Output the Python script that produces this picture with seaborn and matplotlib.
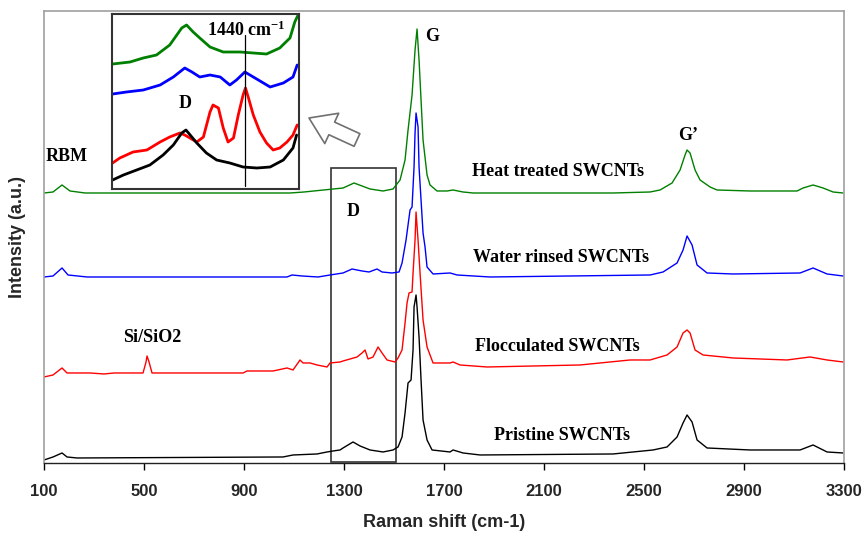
import matplotlib
matplotlib.use('Agg')

import matplotlib.pyplot as plt
import matplotlib.patches as mpatches
import seaborn as sns
import pandas as pd

# spectra (Raman shift in cm-1, intensity in arbitrary units, already offset)
heat_shift = [100, 136, 172, 204, 264, 1084, 1140, 1296, 1340, 1404, 1456, 1496, 1524, 1544, 1556,
              1572, 1584, 1592, 1600, 1608, 1616, 1632, 1644, 1672, 1712, 1736, 1776, 1816, 2376, 2524,
              2564, 2612, 2644, 2664, 2672, 2684, 2704, 2724, 2764, 2792, 2924, 3112, 3136, 3176, 3216,
              3256, 3296]
heat_int = [270, 271, 278, 272, 270, 270, 271, 275, 280, 274, 272, 274, 283, 303, 333,
            368, 413, 434, 403, 363, 323, 288, 278, 272, 272, 273, 271, 270, 270, 271,
            273, 280, 293, 308, 313, 310, 293, 283, 276, 273, 272, 272, 275, 278, 275,
            271, 270]

rinse_shift = [100, 136, 172, 196, 272, 1072, 1092, 1132, 1196, 1244, 1296, 1332, 1372, 1400, 1432,
               1452, 1492, 1520, 1532, 1548, 1564, 1572, 1580, 1584, 1588, 1596, 1600, 1608, 1616, 1624,
               1632, 1656, 1724, 1752, 1884, 2524, 2576, 2632, 2656, 2672, 2692, 2712, 2752, 2856, 3124,
               3176, 3232, 3296]
rinse_int = [186, 187, 195, 188, 186, 186, 188, 187, 186, 188, 190, 194, 192, 191, 194,
             191, 190, 191, 200, 223, 253, 256, 296, 330, 350, 336, 296, 263, 230, 216,
             196, 189, 190, 188, 186, 188, 191, 200, 213, 227, 218, 198, 190, 189, 190,
             195, 189, 187]

floc_shift = [100, 136, 172, 192, 284, 340, 380, 496, 508, 512, 520, 532, 896, 912, 1016,
              1072, 1096, 1124, 1136, 1164, 1192, 1232, 1244, 1284, 1296, 1352, 1372, 1384, 1396, 1416,
              1436, 1452, 1472, 1504, 1516, 1532, 1544, 1552, 1560, 1572, 1576, 1584, 1588, 1596, 1604,
              1616, 1632, 1656, 1724, 1736, 1764, 1872, 2244, 2444, 2524, 2592, 2632, 2656, 2672, 2684,
              2704, 2736, 2856, 3072, 3164, 3232, 3296]
floc_int = [86, 88, 95, 90, 90, 89, 90, 90, 101, 107, 101, 90, 90, 92, 92,
            95, 93, 103, 100, 100, 98, 96, 100, 101, 102, 106, 110, 113, 104, 106,
            116, 110, 103, 101, 105, 113, 140, 160, 170, 171, 190, 223, 251, 223, 190,
            143, 116, 100, 100, 101, 98, 96, 98, 103, 103, 108, 116, 130, 133, 130,
            113, 108, 105, 103, 106, 103, 101]

prist_shift = [100, 136, 172, 192, 232, 1056, 1096, 1192, 1232, 1256, 1284, 1296, 1336, 1364, 1404,
               1456, 1496, 1516, 1532, 1544, 1556, 1568, 1576, 1580, 1588, 1592, 1600, 1608, 1616, 1632,
               1652, 1724, 1736, 1776, 1844, 2376, 2536, 2592, 2632, 2656, 2672, 2692, 2712, 2752, 2924,
               3124, 3176, 3232, 3296]
prist_int = [3, 6, 10, 6, 5, 6, 8, 9, 11, 12, 13, 15, 21, 17, 13,
             11, 13, 16, 26, 50, 80, 83, 113, 156, 168, 156, 126, 83, 43, 23,
             13, 11, 13, 10, 8, 9, 13, 16, 26, 40, 48, 41, 23, 15, 13,
             13, 18, 11, 10]

# zoomed D-band region shown in the inset
in_heat_shift = [1220, 1249, 1271, 1293, 1315, 1335, 1343, 1354, 1365, 1382, 1404, 1432, 1454, 1476, 1498, 1515, 1523, 1530]
in_heat_int = [125, 127, 131, 134, 144, 161, 164, 157, 151, 142, 137, 137, 136, 135, 141, 151, 167, 176]
in_rinse_shift = [1220, 1243, 1271, 1299, 1321, 1340, 1352, 1365, 1382, 1399, 1415, 1426, 1440, 1454, 1482, 1504, 1520, 1527]
in_rinse_int = [95, 97, 99, 104, 112, 121, 117, 112, 114, 112, 104, 109, 117, 112, 102, 106, 112, 124]
in_floc_shift = [1220, 1232, 1254, 1277, 1299, 1315, 1332, 1340, 1360, 1371, 1382, 1387, 1396, 1404,
                 1412, 1421, 1429, 1437, 1441, 1446, 1454, 1465, 1476, 1487, 1498, 1510, 1520, 1527]
in_floc_int = [26, 31, 37, 39, 47, 52, 56, 54, 47, 52, 77, 84, 81, 61,
               47, 51, 74, 94, 101, 91, 74, 57, 46, 39, 41, 47, 54, 64]
in_prist_shift = [1220, 1238, 1260, 1282, 1304, 1321, 1335, 1342, 1349, 1360, 1376, 1393, 1415, 1437, 1460, 1482, 1504, 1520, 1526]
in_prist_int = [9, 14, 19, 24, 34, 44, 56, 59, 54, 46, 36, 29, 26, 22, 21, 22, 29, 41, 54]

xticks = [100, 500, 900, 1300, 1700, 2100, 2500, 2900, 3300]

sns.set_theme(style='white')
plt.rcParams['font.family'] = ['Liberation Serif', 'DejaVu Serif']
plt.rcParams['mathtext.fontset'] = 'custom'
plt.rcParams['mathtext.rm'] = 'Liberation Serif:bold'
plt.rcParams['mathtext.it'] = 'Liberation Serif:bold'
plt.rcParams['mathtext.bf'] = 'Liberation Serif:bold'

sans = ['Liberation Sans', 'DejaVu Sans']

fig = plt.figure(figsize=(8.65, 5.34), dpi=100)
ax = fig.add_axes([0.0509, 0.1330, 0.9249, 0.8464])

curves = [(heat_shift, heat_int, 'green'), (rinse_shift, rinse_int, 'blue'),
          (floc_shift, floc_int, 'red'), (prist_shift, prist_int, 'black')]
for xs, ys, col in curves:
    df = pd.DataFrame({'shift': xs, 'intensity': ys})
    sns.lineplot(data=df, x='shift', y='intensity', ax=ax, color=col, lw=1.0, estimator=None)

ax.set_xlim(100, 3300)
ax.set_ylim(0, 452)
ax.set_xticks(xticks)
ax.set_xticklabels([str(t) for t in xticks], family=sans, fontweight='bold', fontsize=12)
ax.set_yticks([])
ax.tick_params(axis='x', direction='out', length=5, width=1, color='black', bottom=True, pad=10)
for side in ['left', 'top', 'right']:
    ax.spines[side].set_color('#a0a0a0')
    ax.spines[side].set_linewidth(1.2)
ax.spines['bottom'].set_color('#202020')
ax.spines['bottom'].set_linewidth(1.0)
ax.set_xlabel('Raman shift (cm-1)', family=sans, fontweight='bold', fontsize=13, labelpad=11)
ax.set_ylabel('Intensity (a.u.)', family=sans, fontweight='bold', fontsize=13, labelpad=13)

# box around the D band
ax.add_patch(mpatches.Rectangle((1248, 1), 260, 294, fill=False, ec='#333333', lw=1.2))

tkw = dict(fontsize=13, fontweight='bold', ha='center', va='center', color='black')
ax.text(2156, 291, 'Heat treated SWCNTs', **tkw)
ax.text(2168, 205, 'Water rinsed SWCNTs', **tkw)
ax.text(2152, 116, 'Flocculated SWCNTs', **tkw)
ax.text(2172, 27, 'Pristine SWCNTs', **tkw)
ax.text(1652, 426, 'G', **tkw)
ax.text(2676, 327, 'G\u2019', **tkw)
ax.text(1336, 251, 'D', **tkw)
ax.text(192, 306, 'RBM', **tkw)
ax.text(532, 125, 'Si/SiO2', **tkw)

# hollow arrow pointing to the inset
ax.annotate('', xy=(309, 416), xytext=(357, 394), xycoords='figure pixels', textcoords='figure pixels',
            arrowprops=dict(arrowstyle='simple,head_length=0.9,head_width=1.2,tail_width=0.5',
                            fc='white', ec='#707070', lw=1.2, mutation_scale=20,
                            shrinkA=0, shrinkB=0))

# inset
axin = fig.add_axes([112 / 865, 1 - 189 / 534, 187 / 865, 175 / 534])
inset_curves = [(in_heat_shift, in_heat_int, 'green'), (in_rinse_shift, in_rinse_int, 'blue'),
                (in_floc_shift, in_floc_int, 'red'), (in_prist_shift, in_prist_int, 'black')]
for xs, ys, col in inset_curves:
    df = pd.DataFrame({'shift': xs, 'intensity': ys})
    sns.lineplot(data=df, x='shift', y='intensity', ax=axin, color=col, lw=2.0, estimator=None)
axin.set_xlim(1219, 1530)
axin.set_ylim(0, 175)
axin.set_xticks([])
axin.set_yticks([])
axin.set_xlabel('')
axin.set_ylabel('')
for side in axin.spines:
    axin.spines[side].set_color('#333333')
    axin.spines[side].set_linewidth(1.5)
axin.axvline(1440, ymin=0.02, ymax=0.88, color='black', lw=0.9)
axin.text(1442, 159, '1440 cm$^{-1}$', **tkw)
axin.text(1340, 86, 'D', **tkw)

plt.savefig('out.png', dpi=100)
